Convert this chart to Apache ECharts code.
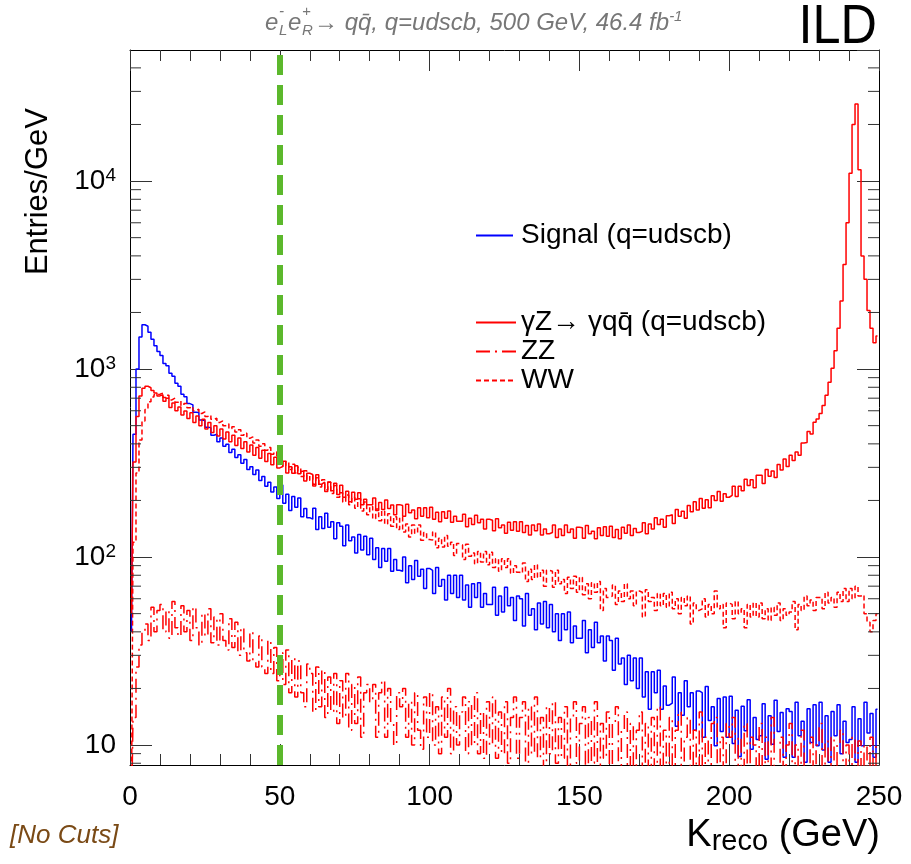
<!DOCTYPE html>
<html>
<head>
<meta charset="utf-8">
<script src="https://cdn.jsdelivr.net/npm/echarts@6/dist/echarts.min.js"></script>
<style>html,body{margin:0;padding:0;background:#fff}#c{width:911px;height:864px}</style>
</head>
<body>
<div id="c"></div>
<script>
// ---- data: 1 GeV bins from 0 to 250 GeV (bin i covers [i, i+1)) ----
const binLow = 0, binWidth = 1;
const signal = [
40,450,1000,1480,1720,1690,1570,1440,1330,1240,
1180,1070,1040,950,915,840,810,735,712,655,
645,590,588,535,532,490,488,445,450,410,
430,388,398,360,375,338,350,315,330,292,
302,275,290,255,268,238,250,222,236,205,
242,193,216,177,210,184,206,164,181,162,
159,182,140,164,142,171,144,154,125,152,
146,115,148,122,128,105,132,109,129,103,
126,97,112,88,111,95,111,84,97,85,
84,100,73,90,76,96,79,86,68,87,
85,64,88,70,76,59,80,64,80,61,
80,59,71,54,72,61,73,54,64,56,
56,69,49,62,51,69,55,61,46,62,
60,43,64,49,53,41,57,44,58,42,
56,40,50,36,50,41,51,35,43,37,
37,46,31,41,33,45,35,38,28,38,
36,25,37,27,29,21,30,22,29,20,
29,18,24.5,15.5,24.5,19,25,15.5,20.6,16.3,
16.7,23,12.6,19,14.4,22,16,19,12,19.4,
19,11,20.5,13.5,16,9.9,17.7,11.8,18,11,
18.2,10.2,15.3,8.7,16.1,11.9,17.4,9.5,14,10.7,
11.2,16.6,8.4,14.3,10.1,17.3,11.8,14.9,8.6,15.6,
15.1,8.6,16.9,11.2,13.4,8.1,15.6,10.3,16.4,9.9,
16.9,9.4,14.3,8.1,15.1,11.2,16.4,9,13.4,10.3,
10.7,16,8.1,13.8,9.9,16.9,11.6,14.7,8.6,15.5
];
const gammaZ = [
50,320,560,720,790,810,795,770,745,720,
730,675,700,625,660,600,628,570,598,545,
585,520,562,500,540,480,520,460,500,440,
480,425,462,410,445,392,430,378,410,362,
395,348,382,335,370,322,356,310,340,298,
303,323,280,302,279,306,277,286,254,279,
275,239,274,244,250,223,251,225,247,215,
241,208,224,197,221,203,220,190,203,190,
190,206,177,195,179,201,181,189,168,190,
188,165,191,172,178,160,183,165,183,162,
184,159,173,154,174,161,176,153,165,155,
155,169,145,161,149,167,152,159,141,159,
157,138,160,143,148,134,153,139,154,137,
154,135,147,131,148,138,150,131,141,133,
135,148,127,141,130,148,135,141,126,144,
143,126,147,133,137,125,143,130,145,129,
146,127,140,125,144,134,148,130,142,135,
137,152,133,150,141,162,149,159,144,166,
168,151,179,165,175,161,188,174,197,178,
205,182,202,183,212,200,223,198,217,208,
213,238,210,238,225,259,240,258,234,272,
272,246,292,269,287,265,311,290,332,303,
348,326,362,348,404,407,466,452,521,543,
580,640,725,850,1010,1250,1650,2300,3600,6000,
11000,20000,25700,11500,4000,3000,2050,1650,1380,1500
];
const zz = [
4,14,26,34,40,44,36,54,40,52,
56,40,52,37,58,42,38,55,40,52,
36,54,42,34,50,38,53,35,48,34,
50,36,32,47,33,45,30,42,31,28,
40,28,26,38,26,24,36,24,33,22,
31,21,32,19,29,18,28,19,16,27,
24,15,26,16,25,14,23,15,24,13,
22,14,24,12,21,13,23,11,19,21,
17,21,11,19,22,11,20,13,10,19,
16,20,11,17,10,19,12,9.5,18,11,
19,10,16,9,18,11,20,9,16,10,
15,18,9,17,10,19,9,15,8.5,17,
10,18,8.5,15,9,17,8,14,18,8.5,
14,17,8,16,9,18,8.5,14,7.5,16,
9,17,8,14,8.5,16,7.5,14,17,8,
13,16,7.5,14,8,17,7,13,8.5,15,
7.5,13,16,7,12,15,7.5,13,6.5,12,
15,7,13,6.5,14,7.5,16,7,12,7,
14,6.5,12,15,7,11,14,6.5,12,7.5,
15,6.5,11,6,13,14,6.5,11,6,13,
11,14,6,11,6.5,13,5.5,11,10,6,
13,6.5,11,5.5,14,6.5,6,11,5.5,10,
13,6,10,5.5,12,6.5,5.5,11,6,10,
13,5.5,10.5,6,11,5.5,10,12,5.5,10,
6,11,5.5,10.5,6,10,5.5,11,6,10
];
const ww = [
5,120,280,420,530,610,670,710,730,735,
745,705,725,685,700,665,680,640,656,622,
632,600,612,580,592,560,570,540,548,520,
530,500,512,482,494,462,476,444,456,428,
436,404,420,388,400,370,382,352,362,334,
332,304,322,292,312,280,300,268,288,256,
272,244,264,236,258,228,250,218,240,208,
220,196,214,190,208,182,204,176,196,168,
186,160,180,156,176,150,170,146,164,140,
163,136,150,128,148,134,148,123,135,124,
123,136,112,126,113,130,114,120,102,118,
116,97,117,101,105,92,107,94,107,91,
106,88,98,84,98,88,98,82,90,83,
82,93,74,86,76,91,78,85,70,85,
84,69,85,72,76,64,78,68,79,65,
78,63,72,60,73,65,74,52,68,61,
62,71,56,66,58,72,60,66,55,66,
65,48,67,58,61,52,64,55,64,54,
65,53,60,50,61,55,62,44,57,52,
53,60,48,56,50,66,53,56,42,57,
56,47,58,50,53,42,56,48,57,48,
57,47,53,46,54,49,57,46,53,49,
51,58,41,56,52,62,55,59,52,61,
61,53,65,57,61,54,65,58,68,58,
68,60,70,62,63,50,45,40,46,50
];
const seriesNames = ['Signal (q=udscb)', '\u03b3Z\u2192 \u03b3qq\u0304 (q=udscb)', 'ZZ', 'WW'];
const cutValue = 50;                       // K_reco cut line (GeV)
const xMin = 0, xMax = 250, xStep = 50;
const yMin = 7.83, yMax = 49800;
const yMajorTicks = [10, 100, 1000, 10000];
const yMajorLabels = ['10', '10|2', '10|3', '10|4'];
const yMinorTicks = [8, 9, 20, 30, 40, 50, 60, 70, 80, 90, 200, 300, 400, 500, 600, 700, 800, 900,
  2000, 3000, 4000, 5000, 6000, 7000, 8000, 9000, 20000, 30000, 40000];

// ---- chart ----
const FONT = '"Liberation Sans", Arial, Helvetica, sans-serif';
const toPts = arr => arr.map((v, i) => [binLow + (i + 0.5) * binWidth, v]);
const axisLineStyle = { color: '#000', width: 1 };
const tickStyle = { color: '#333', width: 1 };

function yLabel(value) {
  const idx = yMajorTicks.findIndex(t => Math.abs(t - value) / t < 1e-6);
  if (idx < 0) return '';
  const parts = yMajorLabels[idx].split('|');
  return parts.length > 1 ? '{b|' + parts[0] + '}{s|' + parts[1] + '}' : '{b|' + parts[0] + '}';
}

const chart = echarts.init(document.getElementById('c'), null, { renderer: 'canvas' });
const xAxisBase = {
  type: 'value', min: xMin, max: xMax, interval: xStep,
  axisLine: { show: true, onZero: false, lineStyle: axisLineStyle },
  axisTick: { show: true, inside: true, length: 21, lineStyle: tickStyle },
  minorTick: { show: true, splitNumber: 5, length: 11, lineStyle: tickStyle },
  splitLine: { show: false }, minorSplitLine: { show: false }
};
const yAxisBase = {
  type: 'log', logBase: 10, min: yMin, max: yMax,
  axisLine: { show: true, onZero: false, lineStyle: axisLineStyle },
  axisTick: { show: true, inside: true, length: 22, lineStyle: tickStyle },
  splitLine: { show: false }
};
const lineSeries = (name, data, color, type) => ({
  name, type: 'line', data: toPts(data), step: 'middle', symbol: 'none', showSymbol: false,
  clip: true, xAxisIndex: 0, yAxisIndex: 0,
  lineStyle: { color, width: 1.5, type }, itemStyle: { color }, emphasis: { disabled: true }
});
const legendText = { fontSize: 28, color: '#000', fontFamily: FONT, lineHeight: 29 };

const option = {
  animation: false,
  backgroundColor: '#fff',
  grid: { left: 130, right: 32, top: 50, bottom: 99 },
  xAxis: [
    Object.assign({}, xAxisBase, { position: 'bottom',
      axisLabel: { fontSize: 28, color: '#000', fontFamily: FONT, margin: 18 } }),
    Object.assign({}, xAxisBase, { position: 'top', axisLabel: { show: false } })
  ],
  yAxis: [
    Object.assign({}, yAxisBase, { position: 'left',
      axisLabel: { formatter: yLabel, margin: 14, showMinLabel: false, showMaxLabel: false,
        rich: { b: { fontSize: 28, color: '#000', fontFamily: FONT, lineHeight: 30 },
                s: { fontSize: 19, color: '#000', fontFamily: FONT, verticalAlign: 'top', lineHeight: 12 } } } }),
    Object.assign({}, yAxisBase, { position: 'right', axisLabel: { show: false } })
  ],
  legend: [
    { data: [seriesNames[0]], orient: 'vertical', left: 470, top: 216, itemWidth: 37, itemHeight: 14,
      itemGap: 0, selectedMode: false, itemStyle: { opacity: 0 },
      textStyle: Object.assign({ padding: [0, 0, 0, 3] }, legendText) },
    { data: seriesNames.slice(1), orient: 'vertical', left: 470, top: 303, itemWidth: 40, itemHeight: 14,
      itemGap: 0, selectedMode: false, itemStyle: { opacity: 0 },
      textStyle: Object.assign({ padding: [0, 0, 0, 0] }, legendText) }
  ],
  series: [
    lineSeries(seriesNames[0], signal, '#0000ff', 'solid'),
    lineSeries(seriesNames[1], gammaZ, '#ff0000', 'solid'),
    lineSeries(seriesNames[2], zz, '#ff0000', [14, 5, 2, 5]),
    lineSeries(seriesNames[3], ww, '#ff0000', [5, 3]),
    {
      name: 'yMinorTicks', type: 'custom', xAxisIndex: 0, yAxisIndex: 0, silent: true, clip: false, z: 5,
      data: yMinorTicks.map(v => [xMin, v]),
      renderItem: function (params, api) {
        const p = api.coord([api.value(0), api.value(1)]);
        const cs = params.coordSys;
        return { type: 'group', children: [
          { type: 'line', shape: { x1: cs.x, y1: p[1], x2: cs.x + 11, y2: p[1] }, style: { stroke: '#333', lineWidth: 1 } },
          { type: 'line', shape: { x1: cs.x + cs.width - 11, y1: p[1], x2: cs.x + cs.width, y2: p[1] }, style: { stroke: '#333', lineWidth: 1 } }
        ] };
      },
      markLine: {
        silent: true, symbol: ['none', 'none'], label: { show: false }, animation: false,
        lineStyle: { color: '#5cb82c', width: 6, type: [20, 10] },
        data: [{ xAxis: cutValue }]
      }
    }
  ],
  graphic: [
    { type: 'text', x: 877, y: 28, scaleX: 0.9, originX: 0, originY: 0, style: { text: 'ILD', font: '56px ' + FONT, fill: '#000', align: 'right', verticalAlign: 'middle' } },
    // process label
    { type: 'text', x: 265, y: 23, style: { text: 'e', font: 'italic 24px ' + FONT, fill: '#777', verticalAlign: 'middle' } },
    { type: 'text', x: 279, y: 12, style: { text: '-', font: 'italic 15px ' + FONT, fill: '#777', verticalAlign: 'middle' } },
    { type: 'text', x: 279, y: 31, style: { text: 'L', font: 'italic 15px ' + FONT, fill: '#777', verticalAlign: 'middle' } },
    { type: 'text', x: 288, y: 23, style: { text: 'e', font: 'italic 24px ' + FONT, fill: '#777', verticalAlign: 'middle' } },
    { type: 'text', x: 302, y: 12, style: { text: '+', font: 'italic 15px ' + FONT, fill: '#777', verticalAlign: 'middle' } },
    { type: 'text', x: 302, y: 31, style: { text: 'R', font: 'italic 15px ' + FONT, fill: '#777', verticalAlign: 'middle' } },
    { type: 'text', x: 314, y: 23, style: {
        text: '{m|\u2192 qq\u0304, q=udscb, 500 GeV, 46.4 fb}{s|-1}', verticalAlign: 'middle',
        rich: { m: { font: 'italic 24px ' + FONT, fill: '#777', lineHeight: 28 },
                s: { font: 'italic 15px ' + FONT, fill: '#777', verticalAlign: 'top', lineHeight: 12 } } } },
    // axis titles
    { type: 'text', x: 38, y: 108, rotation: Math.PI / 2, style: { text: 'Entries/GeV', font: '31px ' + FONT, fill: '#000', align: 'right', verticalAlign: 'middle' } },
    { type: 'text', x: 880, y: 836, style: {
        text: '{k|K}{r|reco}{k| (GeV)}', align: 'right', verticalAlign: 'middle',
        rich: { k: { fontSize: 38, fontFamily: FONT, fill: '#000', lineHeight: 40 },
                r: { fontSize: 29, fontFamily: FONT, fill: '#000', verticalAlign: 'bottom', lineHeight: 22 } } } },
    { type: 'text', x: 10, y: 836, style: { text: '[No Cuts]', font: 'italic 26px ' + FONT, fill: '#7a4a16', verticalAlign: 'middle' } }
  ]
};
chart.setOption(option);
</script>
</body>
</html>
